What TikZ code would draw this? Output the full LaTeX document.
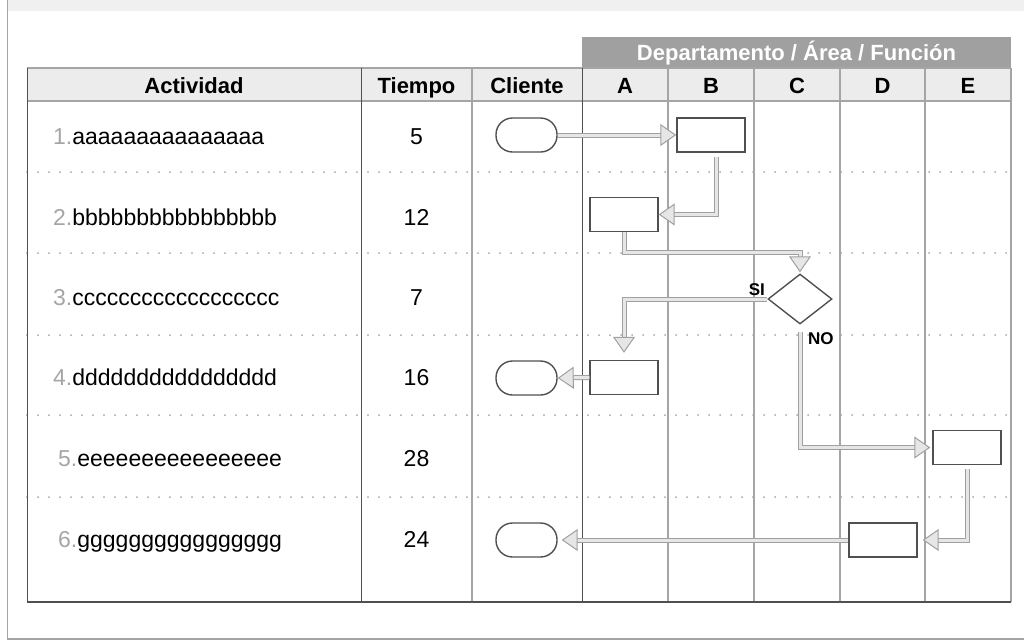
\documentclass[tikz,border=0pt]{standalone}
\usepackage{fontspec}
\setmainfont{Liberation Sans}
\usetikzlibrary{arrows.meta,shapes.geometric}
\definecolor{lnDark}{RGB}{80,80,80}
\definecolor{lnGray}{RGB}{165,165,165}
\definecolor{hdFill}{RGB}{236,236,236}
\definecolor{hdBand}{RGB}{160,160,160}
\definecolor{flFill}{RGB}{230,230,230}
\definecolor{flEdge}{RGB}{160,160,160}
\definecolor{numGray}{RGB}{165,165,165}

\begin{document}
\begin{tikzpicture}[
    x=1pt, y=-1pt,
    txt/.style={font=\fontsize{23}{25}\selectfont, inner sep=0pt, anchor=base},
    head/.style={font=\fontsize{22}{24}\selectfont\bfseries, inner sep=0pt, anchor=base},
    tag/.style={font=\fontsize{17}{19}\selectfont\bfseries, inner sep=0pt},
    proc/.style={rectangle, draw=lnDark, line width=1.4pt, minimum width=68pt, minimum height=34pt, inner sep=0pt},
    term/.style={rectangle, rounded corners=16.5pt, draw=lnDark, line width=1.4pt, minimum width=61pt, minimum height=34pt, inner sep=0pt},
    deci/.style={diamond, draw=lnDark, line width=1.4pt, minimum width=64pt, minimum height=50pt, inner sep=0pt},
    flow/.style={draw=flEdge, line width=1pt, double=flFill, double distance=3pt,
      -{Triangle[length=16pt, width=22pt, fill=flFill]}},
    rowsep/.style={lnGray, line width=2pt, line cap=round, dash pattern=on 0pt off 11pt}
]
  \useasboundingbox (0,0) rectangle (1024,641);

  % frame
  \fill[hdFill!80!white] (7,0) rectangle (1024,11);
  \draw[lnGray, line width=1pt] (7,0) -- (7,639);
  \draw[lnGray, line width=2pt] (7,639) -- (1024,639);

  % table head
  \fill[hdFill] (27,68) rectangle (1011,101);
  \fill[hdBand] (582,37) rectangle (1011,68);
  \node[head, text=white] (dept) at (796.5,60) {Departamento / Área / Función};
  \draw[lnGray, line width=1.2pt] (27,68) -- (1011,68);
  \draw[lnGray, line width=1.2pt] (27,101) -- (1011,101);

  % row separators
  \foreach \y in {172,253,335,415,497}
    \draw[rowsep] (27,\y) -- (1011,\y);

  % columns
  \foreach \x in {27,361,582}
    \draw[lnDark, line width=1pt] (\x,68) -- (\x,602);
  \foreach \x in {472,668,754,840,925,1011}
    \draw[lnGray, line width=1.2pt] (\x,68) -- (\x,602);
  \draw[lnDark, line width=1.2pt] (27,602) -- (1011,602);

  \node[head] (hAct) at (194,93) {Actividad};
  \node[head] (hTie) at (416.5,93) {Tiempo};
  \node[head] (hCli) at (527,93) {Cliente};
  \node[head] (hA) at (625,93) {A};
  \node[head] (hB) at (711,93) {B};
  \node[head] (hC) at (797,93) {C};
  \node[head] (hD) at (882.5,93) {D};
  \node[head] (hE) at (968,93) {E};

  % activities
  \node[txt, anchor=base west] (act1) at (53,144) {\textcolor{numGray}{1.}aaaaaaaaaaaaaaa};
  \node[txt, anchor=base west] (act2) at (53,225) {\textcolor{numGray}{2.}bbbbbbbbbbbbbbbb};
  \node[txt, anchor=base west] (act3) at (53,305) {\textcolor{numGray}{3.}cccccccccccccccccc};
  \node[txt, anchor=base west] (act4) at (53,385) {\textcolor{numGray}{4.}dddddddddddddddd};
  \node[txt, anchor=base west] (act5) at (58,466) {\textcolor{numGray}{5.}eeeeeeeeeeeeeeee};
  \node[txt, anchor=base west] (act6) at (58,547) {\textcolor{numGray}{6.}gggggggggggggggg};

  \node[txt] (t1) at (416.5,144) {5};
  \node[txt] (t2) at (416.5,225) {12};
  \node[txt] (t3) at (416.5,305) {7};
  \node[txt] (t4) at (416.5,385) {16};
  \node[txt] (t5) at (416.5,466) {28};
  \node[txt] (t6) at (416.5,547) {24};

  % flow shapes
  \node[term] (start) at (526.5,135) {};
  \node[proc] (b1) at (711,135) {};
  \node[proc] (a2) at (624,214.5) {};
  \node[deci] (dec) at (800,299) {};
  \node[proc] (a4) at (624,377.5) {};
  \node[term] (end4) at (526.5,378) {};
  \node[proc] (e5) at (967,447.5) {};
  \node[proc] (d6) at (883,540) {};
  \node[term] (end6) at (526.5,540) {};

  \node[tag, anchor=south east] (si) at (765,296) {SI};
  \node[tag, anchor=north west] (no) at (808,332) {NO};

  % connectors
  \draw[flow] (start) -- (b1);
  \draw[flow, shorten <=4pt] ([xshift=5pt]b1.south) |- (a2.east);
  \draw[flow, shorten >=1pt] (a2.south) -- ++(0,20) -| (dec.north);
  \draw[flow, shorten >=7pt] (dec.west) -| (a4.north);
  \draw[flow, shorten <=7pt, shorten >=2pt] (dec.south) |- (e5.west);
  \draw[flow, shorten <=4pt, shorten >=5pt] (e5.south) |- (d6.east);
  \draw[flow, shorten >=4pt] (d6.west) -- (end6.east);
  \draw[flow] (a4.west) -- (end4.east);
\end{tikzpicture}
\end{document}
